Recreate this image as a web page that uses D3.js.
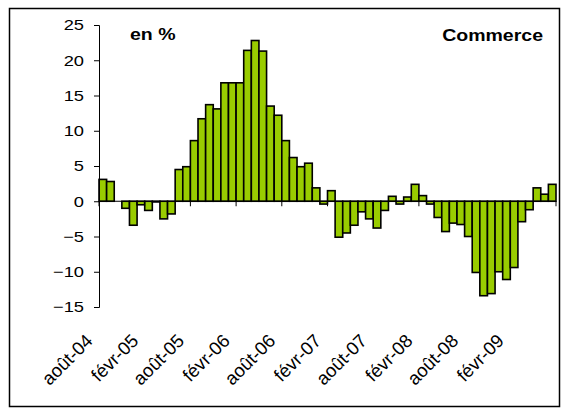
<!DOCTYPE html>
<html>
<head>
<meta charset="utf-8">
<script src="https://cdn.jsdelivr.net/npm/d3@7"></script>
<style>
  body { margin: 0; background: #fff; }
  text { font-family: Arial, "Liberation Sans", Helvetica, sans-serif; }
</style>
</head>
<body>
<div id="chart-area"></div>
<script>
// monthly categories, août-04 .. juil-09
const MONTHS = ["janv", "févr", "mars", "avr", "mai", "juin", "juil", "août", "sept", "oct", "nov", "déc"]
const START_MONTH = 7   // août
const START_YEAR = 4    // 2004

// values in %
const values = [
  3.1, 2.8, 0, -1.0, -3.4, -0.5, -1.3, -0.1, -2.5, -1.8,
  4.5, 4.9, 8.6, 11.7, 13.7, 13.1, 16.8, 16.8, 16.8, 21.4,
  22.8, 21.3, 13.5, 12.2, 8.6, 6.2, 4.9, 5.4, 1.9, -0.4,
  1.5, -5.1, -4.5, -3.4, -1.5, -2.5, -3.8, -1.3, 0.7, -0.4,
  0.6, 2.4, 0.8, -0.4, -2.3, -4.3, -3.1, -3.3, -5.0, -10.1,
  -13.4, -13.1, -10.0, -11.1, -9.4, -2.9, -1.2, 1.9, 1.0, 2.4
]
const yTicks = [25, 20, 15, 10, 5, 0, -5, -10, -15]

const categories = values.map((v, i) => {
  const m = (START_MONTH + i) % 12
  const y = START_YEAR + Math.floor((START_MONTH + i) / 12)
  return MONTHS[m] + "-" + String(y).padStart(2, "0")
})

const MARGIN = { LEFT: 99, RIGHT: 7, TOP: 25, BOTTOM: 105 }
const WIDTH = 563 - MARGIN.LEFT - MARGIN.RIGHT
const HEIGHT = 412 - MARGIN.TOP - MARGIN.BOTTOM
const STRETCH = 1.22 // the original text looks a bit wider than it is tall

const svg = d3.select("#chart-area").append("svg")
  .attr("width", 563)
  .attr("height", 412)

// chart frame
svg.append("rect")
  .attr("x", 9.5).attr("y", 8.5)
  .attr("width", 550).attr("height", 398)
  .attr("fill", "#fff")
  .attr("stroke", "#000")
  .attr("stroke-width", 1.5)

const g = svg.append("g")
  .attr("transform", `translate(${MARGIN.LEFT}, ${MARGIN.TOP})`)

const xScale = d3.scaleBand()
  .domain(categories)
  .range([0, WIDTH])
  .padding(0)

const yScale = d3.scaleLinear()
  .domain([-15, 25])
  .range([HEIGHT, 0])

// bars
g.selectAll("rect.bar")
  .data(values)
  .enter().append("rect")
  .attr("class", "bar")
  .attr("x", (d, i) => xScale(categories[i]))
  .attr("y", d => yScale(Math.max(0, d)))
  .attr("width", xScale.bandwidth())
  .attr("height", d => Math.abs(yScale(d) - yScale(0)))
  .attr("fill", "#99CC00")
  .attr("stroke", "#000")
  .attr("stroke-width", 1.6)

// y axis
const yAxisGenerator = d3.axisLeft(yScale)
  .tickValues(yTicks)
  .tickSize(5)
  .tickFormat(d3.format("d"))
const yAxis = g.append("g")
  .attr("class", "y axis")
  .call(yAxisGenerator)
yAxis.select(".domain").attr("stroke", "#000").attr("stroke-width", 1)
yAxis.selectAll(".tick line").attr("stroke", "#000")
yAxis.selectAll("text")
  .attr("x", null)
  .attr("transform", `translate(-15, 0) scale(${STRETCH}, 1)`)
  .attr("font-size", "15px")
  .attr("fill", "#000")

// x axis line at zero, tick marks every 6 months on category boundaries
const x0 = yScale(0)
g.append("line")
  .attr("x1", 0).attr("x2", WIDTH)
  .attr("y1", x0).attr("y2", x0)
  .attr("stroke", "#000")
const tickIdx = d3.range(0, categories.length + 1, 6)
g.selectAll("line.xtick")
  .data(tickIdx)
  .enter().append("line")
  .attr("class", "xtick")
  .attr("x1", i => i * xScale.step())
  .attr("x2", i => i * xScale.step())
  .attr("y1", x0).attr("y2", x0 + 5)
  .attr("stroke", "#000")

// x labels, rotated
const labelIdx = d3.range(0, categories.length, 6)
g.selectAll("text.xlabel")
  .data(labelIdx)
  .enter().append("text")
  .attr("class", "xlabel")
  .attr("text-anchor", "end")
  .attr("font-size", "18.5px")
  .attr("transform", i => {
    const cx = xScale(categories[i]) + xScale.bandwidth() / 2 - 9
    return `translate(${cx}, ${HEIGHT + 35}) rotate(-45)`
  })
  .text(i => categories[i])

// titles
svg.append("text")
  .attr("transform", `translate(130, 40) scale(${STRETCH}, 1)`)
  .attr("font-size", "16px")
  .attr("font-weight", "bold")
  .text("en %")
svg.append("text")
  .attr("transform", `translate(543, 41) scale(${STRETCH}, 1)`)
  .attr("text-anchor", "end")
  .attr("font-size", "16px")
  .attr("font-weight", "bold")
  .text("Commerce")
</script>
</body>
</html>
